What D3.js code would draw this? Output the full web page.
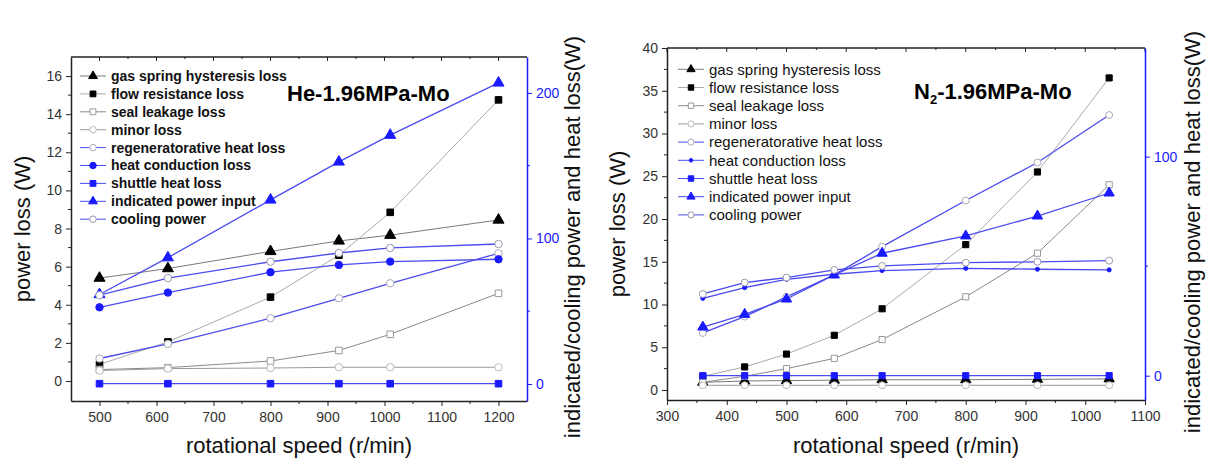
<!DOCTYPE html>
<html>
<head>
<meta charset="utf-8">
<script src="https://cdn.jsdelivr.net/npm/d3@7"></script>
<style>
  body { margin: 0; background: #fff; }
  text { font-family: "Liberation Sans", Arial, sans-serif; }
</style>
</head>
<body>
<script>
const w = 1213
const h = 464

// ---- He panel data ----
const heSpeed = [500, 620, 800, 920, 1010, 1200]
const heGasSpring = [5.4, 5.9, 6.8, 7.35, 7.65, 8.45]
const heFlowRes = [0.87, 2.05, 4.4, 6.6, 8.85, 14.75]
const heSealLeak = [0.6, 0.7, 1.05, 1.6, 2.45, 4.6]
const heMinor = [0.55, 0.65, 0.68, 0.72, 0.72, 0.72]
const heRegen = [17.5, 27.5, 45.2, 58.9, 69.2, 89.8]
const heConduction = [52.7, 62.8, 76.8, 81.8, 84.1, 85.7]
const heShuttle = [0.2, 0.2, 0.2, 0.2, 0.2, 0.2]
const heIndicated = [61.5, 86.8, 126.5, 152.6, 171, 206.9]
const heCooling = [61, 72.8, 84, 90, 93.5, 96.2]

// ---- N2 panel data ----
const n2Speed = [360, 430, 500, 580, 660, 800, 920, 1040]
const n2GasSpring = [0.9, 1.05, 1.1, 1.15, 1.2, 1.2, 1.25, 1.3]
const n2FlowRes = [1.6, 2.7, 4.2, 6.4, 9.5, 17.0, 25.5, 36.5]
const n2SealLeak = [0.9, 1.6, 2.5, 3.7, 5.9, 10.9, 16.0, 24.0]
const n2Minor = [0.55, 0.55, 0.55, 0.55, 0.55, 0.55, 0.55, 0.55]
const n2Regen = [19.5, 27, 36, 46, 58.9, 80, 97.3, 119]
const n2Conduction = [35.3, 40.2, 44, 46.3, 48, 49, 48.6, 48.3]
const n2Shuttle = [0, 0, 0, 0, 0, 0, 0, 0]
const n2Indicated = [22.2, 28, 35, 46, 55.9, 63.8, 72.9, 83.4]
const n2Cooling = [37.3, 42.5, 44.8, 48.3, 50.1, 51.6, 52, 52.5]

const legendNames = ['gas spring hysteresis loss', 'flow resistance loss', 'seal leakage loss', 'minor loss',
    'regeneratorative heat loss', 'heat conduction loss', 'shuttle heat loss', 'indicated power input', 'cooling power']

const heXTicks = [500, 600, 700, 800, 900, 1000, 1100, 1200]
const heYTicks = [0, 2, 4, 6, 8, 10, 12, 14, 16]
const heY2Ticks = [0, 100, 200]
const n2XTicks = [300, 400, 500, 600, 700, 800, 900, 1000, 1100]
const n2YTicks = [0, 5, 10, 15, 20, 25, 30, 35, 40]
const n2Y2Ticks = [0, 100]

const blue = '#1a1aff'
const blueLine = '#4b4bf0'

// marker styles per series, same order as legendNames
const styles = [
    {sym: d3.symbolTriangle, fill: '#000', stroke: '#000', line: '#7a7a7a', axis: 'y'},
    {sym: d3.symbolSquare, fill: '#000', stroke: '#000', line: '#aaaaaa', axis: 'y'},
    {sym: d3.symbolSquare, fill: '#fff', stroke: '#999', line: '#8a8a8a', axis: 'y'},
    {sym: d3.symbolCircle, fill: '#fff', stroke: '#bbb', line: '#9a9a9a', axis: 'y'},
    {sym: d3.symbolCircle, fill: '#fff', stroke: '#aab', line: blueLine, axis: 'y2'},
    {sym: d3.symbolCircle, fill: blue, stroke: blue, line: blueLine, axis: 'y2'},
    {sym: d3.symbolSquare, fill: blue, stroke: blue, line: blueLine, axis: 'y2'},
    {sym: d3.symbolTriangle, fill: blue, stroke: blue, line: blueLine, axis: 'y2'},
    {sym: d3.symbolCircle, fill: '#fff', stroke: '#99a', line: blueLine, axis: 'y2'}
]

const svg = d3.select('body').append('svg')
    .attr('width', w)
    .attr('height', h)

function drawPanel(p) {
    const x = d3.scaleLinear().domain(p.xDomain).range([p.left, p.right])
    const y = d3.scaleLinear().domain(p.yDomain).range([p.bottom, p.top])
    const y2 = d3.scaleLinear().domain(p.y2Domain).range([p.bottom, p.top])
    const g = svg.append('g')
    const fmt = d3.format('d')

    // frame
    g.append('line').attr('x1', p.left).attr('x2', p.right).attr('y1', p.top).attr('y2', p.top)
        .attr('stroke', '#222').attr('stroke-width', 1.3)

    // bottom axis
    const xAxis = g.append('g').attr('transform', 'translate(0,' + p.bottom + ')')
        .call(d3.axisBottom(x).tickValues(p.xTicks).tickFormat(fmt).tickSize(5).tickSizeOuter(0).tickPadding(6))
    xAxis.select('.domain').attr('stroke', '#222').attr('stroke-width', 1.5)
    xAxis.selectAll('.tick line').attr('stroke', '#222')
    xAxis.selectAll('text').attr('font-size', 14).attr('fill', '#333')
    const xMinor = p.xTicks.map(function (t) { return t + 50 }).filter(function (t) { return t < p.xDomain[1] })
    g.selectAll(null).data(xMinor).enter().append('line')
        .attr('x1', function (d) { return x(d) }).attr('x2', function (d) { return x(d) })
        .attr('y1', p.bottom).attr('y2', p.bottom + 3).attr('stroke', '#222')
    // top ticks, inward
    g.selectAll(null).data(p.xTicks.concat(xMinor)).enter().append('line')
        .attr('x1', function (d) { return x(d) }).attr('x2', function (d) { return x(d) })
        .attr('y1', p.top).attr('y2', function (d) { return p.xTicks.indexOf(d) >= 0 ? p.top + 4 : p.top + 2 })
        .attr('stroke', '#222')

    // left axis
    const yAxis = g.append('g').attr('transform', 'translate(' + p.left + ',0)')
        .call(d3.axisLeft(y).tickValues(p.yTicks).tickFormat(fmt).tickSize(5).tickSizeOuter(0).tickPadding(4))
    yAxis.select('.domain').attr('stroke', '#222').attr('stroke-width', 1.5)
    yAxis.selectAll('.tick line').attr('stroke', '#222')
    yAxis.selectAll('text').attr('font-size', 14).attr('fill', '#333')
    const yStep = p.yTicks[1] - p.yTicks[0]
    const yMinor = p.yTicks.map(function (t) { return t + yStep / 2 }).filter(function (t) { return t < p.yDomain[1] })
    g.selectAll(null).data(yMinor).enter().append('line')
        .attr('x1', p.left - 3).attr('x2', p.left)
        .attr('y1', function (d) { return y(d) }).attr('y2', function (d) { return y(d) })
        .attr('stroke', '#222')

    // right axis (blue)
    const y2Axis = g.append('g').attr('transform', 'translate(' + p.right + ',0)')
        .call(d3.axisRight(y2).tickValues(p.y2Ticks).tickFormat(fmt).tickSize(5).tickSizeOuter(0).tickPadding(4))
    y2Axis.select('.domain').attr('stroke', blue).attr('stroke-width', 1.5)
    y2Axis.selectAll('.tick line').attr('stroke', blue)
    y2Axis.selectAll('text').attr('font-size', 14).attr('fill', blue)
    const y2Minor = p.y2Ticks.map(function (t) { return t + 50 }).filter(function (t) { return t < p.y2Domain[1] })
    g.selectAll(null).data(y2Minor).enter().append('line')
        .attr('x1', p.right).attr('x2', p.right + 3)
        .attr('y1', function (d) { return y2(d) }).attr('y2', function (d) { return y2(d) })
        .attr('stroke', blue)

    // series
    for (let i = 0; i < p.series.length; i++) {
        const s = styles[i]
        const sc = s.axis === 'y' ? y : y2
        const pts = p.speed.map(function (v, j) { return [x(v), sc(p.series[i][j])] })
        g.append('path')
            .attr('d', d3.line()(pts))
            .attr('fill', 'none')
            .attr('stroke', s.line)
            .attr('stroke-width', s.axis === 'y' ? 1 : 1.3)
        g.selectAll(null).data(pts).enter().append('path')
            .attr('transform', function (d) { return 'translate(' + d[0] + ',' + d[1] + ')' })
            .attr('d', d3.symbol().type(s.sym).size(p.markerSize * (s.sym === d3.symbolTriangle ? 1.1 : 0.9) * (i === 5 && p.smallDot ? 0.35 : 1)))
            .attr('fill', s.fill)
            .attr('stroke', s.stroke)
            .attr('stroke-width', 1)
    }

    // legend
    const lg = g.append('g')
    legendNames.forEach(function (name, i) {
        const s = styles[i]
        const ly = p.legendTop + i * p.legendStep
        lg.append('line').attr('x1', p.legendX).attr('x2', p.legendX + 26)
            .attr('y1', ly).attr('y2', ly).attr('stroke', s.line).attr('stroke-width', 1)
        lg.append('path')
            .attr('transform', 'translate(' + (p.legendX + 13) + ',' + ly + ')')
            .attr('d', d3.symbol().type(s.sym).size(p.markerSize * 0.7 * (i === 5 && p.smallDot ? 0.35 : 1)))
            .attr('fill', s.fill).attr('stroke', s.stroke)
        lg.append('text').attr('x', p.legendX + 31).attr('y', ly).attr('dy', '0.35em')
            .attr('font-size', p.legendFont).attr('font-weight', p.legendBold ? 'bold' : 'normal')
            .attr('fill', '#111').text(name)
    })

    // title
    const t = g.append('text').attr('x', p.titleX).attr('y', p.titleY)
        .attr('font-size', 22).attr('font-weight', 'bold').attr('fill', '#000')
    p.title.forEach(function (part) {
        const ts = t.append('tspan').text(part.text)
        if (part.sub) ts.attr('font-size', 13).attr('dy', 5)
        else if (part.after) ts.attr('dy', -5)
    })

    // axis titles
    g.append('text').attr('x', (p.left + p.right) / 2).attr('y', 453)
        .attr('text-anchor', 'middle').attr('font-size', 22).attr('fill', '#111')
        .text('rotational speed (r/min)')
    g.append('text').attr('transform', 'translate(' + p.yLabelX + ',' + ((p.top + p.bottom) / 2) + ') rotate(-90)')
        .attr('text-anchor', 'middle').attr('font-size', 22).attr('fill', '#111')
        .text('power loss (W)')
    g.append('text').attr('transform', 'translate(' + p.y2LabelX + ',' + p.y2LabelY + ') rotate(-90)')
        .attr('text-anchor', 'middle').attr('font-size', 22).attr('fill', '#111')
        .text('indicated/cooling power and heat loss(W)')
}

drawPanel({
    left: 71, right: 527, top: 57, bottom: 401,
    xDomain: [450, 1250], yDomain: [-1.05, 17], y2Domain: [-11.7, 224.7],
    xTicks: heXTicks, yTicks: heYTicks, y2Ticks: heY2Ticks,
    speed: heSpeed,
    series: [heGasSpring, heFlowRes, heSealLeak, heMinor, heRegen, heConduction, heShuttle, heIndicated, heCooling],
    markerSize: 48, smallDot: false,
    legendX: 80, legendTop: 76, legendStep: 17.9, legendFont: 14, legendBold: true,
    title: [{text: 'He-1.96MPa-Mo'}], titleX: 287, titleY: 101,
    yLabelX: 30, y2LabelX: 580, y2LabelY: 237
})

drawPanel({
    left: 667, right: 1145, top: 48, bottom: 400,
    xDomain: [300, 1100], yDomain: [-1.17, 40], y2Domain: [-11.1, 149.6],
    xTicks: n2XTicks, yTicks: n2YTicks, y2Ticks: n2Y2Ticks,
    speed: n2Speed,
    series: [n2GasSpring, n2FlowRes, n2SealLeak, n2Minor, n2Regen, n2Conduction, n2Shuttle, n2Indicated, n2Cooling],
    markerSize: 42, smallDot: true,
    legendX: 678, legendTop: 69.3, legendStep: 18.2, legendFont: 15, legendBold: false,
    title: [{text: 'N'}, {text: '2', sub: true}, {text: '-1.96MPa-Mo', after: true}], titleX: 914, titleY: 99,
    yLabelX: 625, y2LabelX: 1200, y2LabelY: 232
})
</script>
</body>
</html>
